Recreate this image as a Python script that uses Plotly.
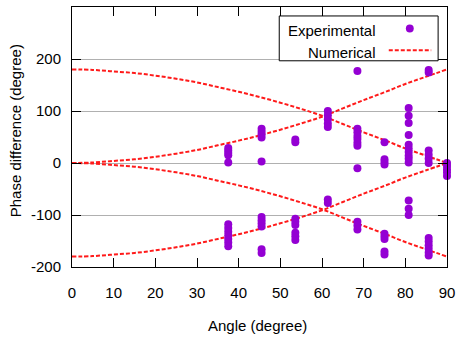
import plotly.graph_objects as go

# Numerical curves
num_angle = [0, 5, 10, 15, 20, 25, 30, 35, 40, 45, 50, 55, 60, 65, 70, 75, 80, 85, 90]
num_rise_pos = [0, 1, 4, 7, 12, 18, 25, 34, 43, 53, 64, 76, 89, 105, 121, 136, 152, 166, 180]
num_fall_pos = [180, 179, 176, 173, 168, 162, 155, 146, 137, 127, 116, 104, 91, 75, 59, 44, 28, 14, 0]
num_fall_neg = [0, -1, -4, -7, -12, -18, -25, -34, -43, -53, -64, -76, -89, -105, -121, -136, -152, -166, -180]
num_rise_neg = [-180, -179, -176, -173, -168, -162, -155, -146, -137, -127, -116, -104, -91, -75, -59, -44, -28, -14, 0]

# Experimental points
exp_angle = (
    [37.5] * 12 + [45.5] * 11 + [53.6] * 8 + [61.4] * 7 + [68.5] * 11
    + [75.0] * 9 + [80.8] * 13 + [85.6] * 12 + [90.0] * 5
)
exp_phase = [
    29, 24, 19, 15, 1, -118, -125, -132, -139, -146, -153, -160,
    66, 60, 55, 49, 3, -104, -110, -116, -122, -166, -173,
    45, 40, -107, -113, -119, -134, -141, -148,
    100, 92, 84, 76, 69, -70, -77,
    177, 66, 59, 52, 46, 39, 33, -10, -113, -120, -128,
    40, 7, 2, -3, -136, -141, -146, -170, -176,
    106, 91, 77, 54, 35, 28, 21, 14, 8, 1, -72, -88, -100,
    179, 174, 24, 16, 8, 0, -144, -151, -158, -165, -172, -178,
    0, -6, -12, -18, -25,
]

x_ticks = [0, 10, 20, 30, 40, 50, 60, 70, 80, 90]
y_ticks = [-200, -100, 0, 100, 200]
y_tick_labels = ["-200", "-100", "0", "100", "200"]

FONT = "Liberation Sans, Arial, sans-serif"
RED = "#ff1a1a"
PURPLE = "#9400d3"
DASH = "4px,2px"

fig = go.Figure()
for ys in (num_rise_pos, num_fall_pos, num_fall_neg, num_rise_neg):
    fig.add_trace(go.Scatter(
        x=num_angle, y=ys, mode="lines", line=dict(color=RED, width=2, dash=DASH, shape="spline"),
        showlegend=False, hoverinfo="skip"))

fig.add_trace(go.Scatter(
    x=exp_angle, y=exp_phase, mode="markers",
    marker=dict(color=PURPLE, size=8, line=dict(width=0)),
    cliponaxis=False, showlegend=False))

L, R, T, B = 72, 9, 6, 70
W, H = 461, 337
pw, ph = W - L - R, H - T - B

def px(x):
    return (x - L) / pw

def py(y):
    return (H - B - y) / ph

fig.update_layout(
    width=W, height=H,
    margin=dict(l=L, r=R, t=T, b=B, pad=0),
    paper_bgcolor="white", plot_bgcolor="white",
    font=dict(family=FONT, size=15, color="black"),
    xaxis=dict(range=[0, 90], tickvals=x_ticks, ticks="inside", ticklen=9, tickcolor="black",
               mirror="allticks", showline=True, linecolor="black", linewidth=1,
               showgrid=False, zeroline=False, ticklabelstandoff=12,
               tickfont=dict(family=FONT, size=15, color="black")),
    yaxis=dict(range=[-200, 300], tickvals=y_ticks, ticktext=y_tick_labels, ticks="inside",
               ticklen=9, tickcolor="black",
               mirror="allticks", showline=True, linecolor="black", linewidth=1,
               showgrid=True, gridcolor="#b0b0b0", gridwidth=1, zeroline=False,
               ticklabelstandoff=7,
               tickfont=dict(family=FONT, size=15, color="black")),
    shapes=[
        dict(type="rect", xref="paper", yref="paper", x0=px(282), x1=px(443), y0=py(60), y1=py(15),
             line=dict(color="black", width=1), fillcolor="white", layer="above"),
        dict(type="circle", xref="paper", yref="paper", x0=px(410.3), x1=px(418.3), y0=py(31.5), y1=py(23.5),
             line=dict(width=0), fillcolor=PURPLE, layer="above"),
        dict(type="line", xref="paper", yref="paper", x0=px(393), x1=px(436), y0=py(49.5), y1=py(49.5),
             line=dict(color=RED, width=2, dash=DASH), layer="above"),
    ],
    annotations=[
        dict(text="Experimental", xref="paper", yref="paper", x=px(382), y=py(29.5),
             xanchor="right", yanchor="middle", showarrow=False, font=dict(size=15)),
        dict(text="Numerical", xref="paper", yref="paper", x=px(382), y=py(52),
             xanchor="right", yanchor="middle", showarrow=False, font=dict(size=15)),
        dict(text="Angle (degree)", xref="paper", yref="paper", x=px(260), y=py(326),
             xanchor="center", yanchor="middle", showarrow=False, font=dict(size=15)),
        dict(text="Phase difference (degree)", xref="paper", yref="paper", x=px(15), y=py(130),
             xanchor="center", yanchor="middle", textangle=-90, showarrow=False, font=dict(size=15)),
    ],
)

fig.write_html("out.html")
